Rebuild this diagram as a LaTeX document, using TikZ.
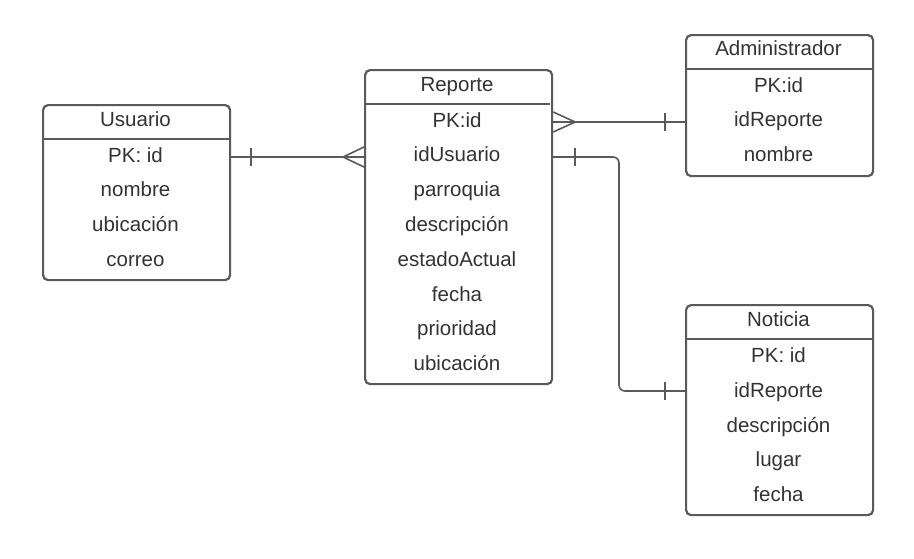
\documentclass[tikz,border=0pt]{standalone}
\usepackage{fontspec}
\setmainfont{Liberation Sans}
\usetikzlibrary{calc}
\definecolor{edge}{HTML}{5A5A5A}
\definecolor{ink}{HTML}{333333}
\tikzset{
  x=1pt, y=-1pt,
  tablebox/.style={draw=edge, line width=2.2pt, rounded corners=5pt, fill=white,
    minimum width=187pt, inner sep=0pt, anchor=north west},
  cell/.style={text=ink, font=\fontsize{20.5}{24}\selectfont, inner sep=0pt, anchor=base},
  rel/.style={draw=edge, line width=1.6pt},
}
\begin{document}
\begin{tikzpicture}
\useasboundingbox[fill=white] (0,0) rectangle (914,558);

% ---- Usuario
\node[tablebox, minimum height=175pt] (usr) at (42,104) {};
\draw[edge, line width=2pt] (42,139) -- (229,139);
\node[cell] (usrT) at (135.5,126.5) {Usuario};
\node[cell] (usr1) at (135.5,162) {PK: id};
\node[cell] (usr2) at (135.5,196.8) {nombre};
\node[cell] (usr3) at (135.5,231.6) {ubicación};
\node[cell] (usr4) at (135.5,266.4) {correo};

% ---- Reporte
\node[tablebox, minimum height=314pt] (rep) at (364,69) {};
\draw[edge, line width=2pt] (364,104) -- (550,104);
\node[cell] (repT) at (457,91.5) {Reporte};
\node[cell] (rep1) at (457,127) {PK:id};
\node[cell] (rep2) at (457,161.8) {idUsuario};
\node[cell] (rep3) at (457,196.6) {parroquia};
\node[cell] (rep4) at (457,231.4) {descripción};
\node[cell] (rep5) at (457,266.2) {estadoActual};
\node[cell] (rep6) at (457,301) {fecha};
\node[cell] (rep7) at (457,335.8) {prioridad};
\node[cell] (rep8) at (457,370.6) {ubicación};

% ---- Administrador
\node[tablebox, minimum height=141pt] (adm) at (685,34) {};
\draw[edge, line width=2pt] (685,69) -- (872,69);
\node[cell] (admT) at (778.5,55.5) {Administrador};
\node[cell] (adm1) at (778.5,92) {PK:id};
\node[cell] (adm2) at (778.5,126.8) {idReporte};
\node[cell] (adm3) at (778.5,161.6) {nombre};

% ---- Noticia
\node[tablebox, minimum height=210pt] (not) at (685,304) {};
\draw[edge, line width=2pt] (685,339) -- (872,339);
\node[cell] (notT) at (778.5,326) {Noticia};
\node[cell] (not1) at (778.5,362.5) {PK: id};
\node[cell] (not2) at (778.5,397.3) {idReporte};
\node[cell] (not3) at (778.5,432) {descripción};
\node[cell] (not4) at (778.5,466.8) {lugar};
\node[cell] (not5) at (778.5,501.6) {fecha};

% ---- Usuario (one) -- Reporte (many)
\coordinate (a1) at (usr.east |- 0,157);
\coordinate (a2) at (rep.west |- 0,157);
\draw[rel] (a1) -- (a2);
\draw[rel] ($(a1)+(20,-9)$) -- ($(a1)+(20,9)$);
\draw[rel] ($(a2)+(0,-10)$) -- ($(a2)+(-21,0)$) -- ($(a2)+(0,10)$);

% ---- Reporte (many) -- Administrador (one)
\coordinate (b1) at (rep.east |- 0,122);
\coordinate (b2) at (adm.west |- 0,122);
\draw[rel] (b1) -- (b2);
\draw[rel] ($(b1)+(0,-10)$) -- ($(b1)+(22,0)$) -- ($(b1)+(0,10)$);
\draw[rel] ($(b2)+(-20,-9)$) -- ($(b2)+(-20,9)$);

% ---- Reporte (one) -- Noticia (one)
\coordinate (c1) at (rep.east |- 0,157);
\coordinate (c2) at (not.west |- 0,391);
\draw[rel, rounded corners=6pt] (c1) -- (619,157) -- (619,391) -- (c2);
\draw[rel] ($(c1)+(22,-9)$) -- ($(c1)+(22,9)$);
\draw[rel] ($(c2)+(-20,-9)$) -- ($(c2)+(-20,9)$);
\end{tikzpicture}
\end{document}
